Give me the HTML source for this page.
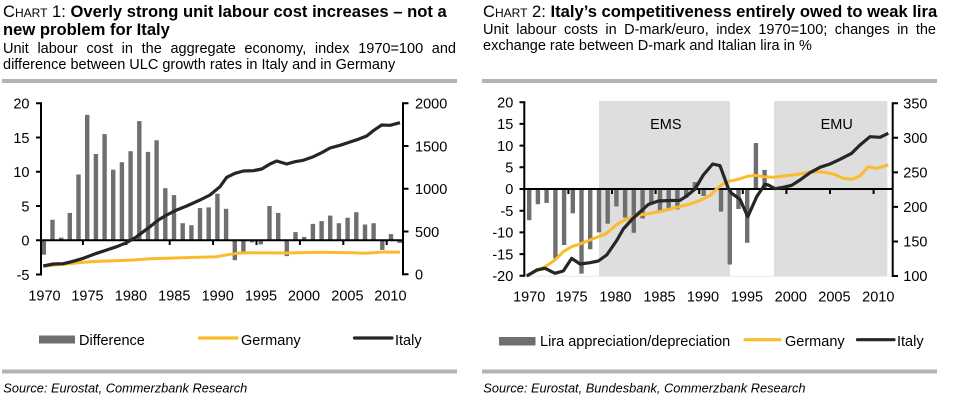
<!DOCTYPE html>
<html><head><meta charset="utf-8"><style>
html,body{margin:0;padding:0;background:#fff;}
body{width:961px;height:407px;overflow:hidden;position:relative;font-family:"Liberation Sans",Arial,sans-serif;color:#000;}
.t{position:absolute;font-size:16.6px;line-height:17.5px;white-space:nowrap;}
.t b{font-weight:bold;}
.sc{font-variant:small-caps;}
.s{position:absolute;font-size:14.5px;line-height:16.2px;width:453px;}
.j{text-align:justify;text-align-last:justify;white-space:nowrap;}
svg{position:absolute;left:0;top:0;}
</style></head><body>
<div class="t" style="left:3px;top:3.2px;">C<span class="sc">hart</span> 1: <b>Overly strong unit labour cost increases – not a</b><br><b>new problem for Italy</b></div>
<div class="s" style="left:3px;top:41.2px;"><div class="j">Unit labour cost in the aggregate economy, index 1970=100 and</div><div>difference between ULC growth rates in Italy and in Germany</div></div>
<div class="t" style="left:483px;top:3.2px;">C<span class="sc">hart</span> 2: <b>Italy’s competitiveness entirely owed to weak lira</b></div>
<div class="s" style="left:483px;top:21.9px;"><div class="j">Unit labour costs in D-mark/euro, index 1970=100; changes in the</div><div>exchange rate between D-mark and Italian lira in %</div></div>

<svg width="961" height="407" viewBox="0 0 961 407" font-family="Liberation Sans, Arial, sans-serif" font-size="14.5">
<rect x="2" y="79" width="455" height="4" fill="#b3b3b3"/>
<rect x="482" y="79" width="455" height="4" fill="#b3b3b3"/>
<rect x="2" y="369.5" width="455" height="4" fill="#b3b3b3"/>
<rect x="482" y="369.5" width="455" height="4" fill="#b3b3b3"/>

<g fill="#6f6f6f">
<rect x="41.6" y="240.3" width="4.4" height="14.4"/>
<rect x="50.3" y="219.7" width="4.4" height="20.6"/>
<rect x="59.0" y="237.6" width="4.4" height="2.7"/>
<rect x="67.6" y="212.9" width="4.4" height="27.4"/>
<rect x="76.3" y="174.5" width="4.4" height="65.8"/>
<rect x="85.0" y="114.9" width="4.4" height="125.4"/>
<rect x="93.7" y="154.0" width="4.4" height="86.3"/>
<rect x="102.4" y="134.1" width="4.4" height="106.2"/>
<rect x="111.0" y="169.7" width="4.4" height="70.6"/>
<rect x="119.7" y="162.2" width="4.4" height="78.1"/>
<rect x="128.4" y="151.2" width="4.4" height="89.1"/>
<rect x="137.1" y="121.1" width="4.4" height="119.2"/>
<rect x="145.8" y="151.9" width="4.4" height="88.4"/>
<rect x="154.4" y="140.3" width="4.4" height="100.0"/>
<rect x="163.1" y="188.2" width="4.4" height="52.1"/>
<rect x="171.8" y="195.1" width="4.4" height="45.2"/>
<rect x="180.5" y="223.2" width="4.4" height="17.1"/>
<rect x="189.2" y="225.2" width="4.4" height="15.1"/>
<rect x="197.8" y="208.1" width="4.4" height="32.2"/>
<rect x="206.5" y="207.4" width="4.4" height="32.9"/>
<rect x="215.2" y="193.7" width="4.4" height="46.6"/>
<rect x="223.9" y="208.8" width="4.4" height="31.5"/>
<rect x="232.6" y="240.3" width="4.4" height="19.9"/>
<rect x="241.2" y="240.3" width="4.4" height="11.6"/>
<rect x="249.9" y="240.3" width="4.4" height="2.1"/>
<rect x="258.6" y="240.3" width="4.4" height="4.1"/>
<rect x="267.3" y="206.0" width="4.4" height="34.3"/>
<rect x="276.0" y="212.9" width="4.4" height="27.4"/>
<rect x="284.6" y="240.3" width="4.4" height="15.8"/>
<rect x="293.3" y="232.1" width="4.4" height="8.2"/>
<rect x="302.0" y="236.9" width="4.4" height="3.4"/>
<rect x="310.7" y="223.9" width="4.4" height="16.4"/>
<rect x="319.4" y="221.1" width="4.4" height="19.2"/>
<rect x="328.0" y="215.6" width="4.4" height="24.7"/>
<rect x="336.7" y="223.2" width="4.4" height="17.1"/>
<rect x="345.4" y="217.7" width="4.4" height="22.6"/>
<rect x="354.1" y="212.2" width="4.4" height="28.1"/>
<rect x="362.8" y="224.5" width="4.4" height="15.8"/>
<rect x="371.4" y="223.2" width="4.4" height="17.1"/>
<rect x="380.1" y="240.3" width="4.4" height="9.6"/>
<rect x="388.8" y="234.1" width="4.4" height="6.2"/>
<rect x="397.5" y="240.3" width="4.4" height="2.7"/>
</g>
<g stroke="#000" stroke-width="2" fill="none">
<line x1="41" y1="240.3" x2="403" y2="240.3"/>
<path d="M82.9 240.3V245M126.3 240.3V245M169.7 240.3V245M213.1 240.3V245M256.5 240.3V245M299.9 240.3V245M343.3 240.3V245M386.7 240.3V245"/>
<line x1="41" y1="102.3" x2="41" y2="275.5"/>
<path d="M36 103.3H41M36 137.55H41M36 171.8H41M36 206.05H41M36 274.55H41M36 240.3H41"/>
<line x1="403" y1="102.3" x2="403" y2="275.3"/>
<path d="M403 103.3H408.5M403 146.05H408.5M403 188.8H408.5M403 231.55H408.5M403 274.3H408.5"/>
</g>
<polyline fill="none" stroke="#fbbc2b" stroke-width="3" stroke-linejoin="round" points="43.3,266 66.7,264 83.3,262.3 100,261.3 133.3,260 150,258.7 166.7,258.3 200,257.3 216.7,256.7 230,254.3 240,253 253.3,252.7 286.7,253 320,252.3 353.3,252.7 363.3,253.3 373.3,252.7 383.3,252 400,252.3"/>
<polyline fill="none" stroke="#262626" stroke-width="3.2" stroke-linejoin="round" points="43.3,266 53.3,264 63.3,263.7 71.7,261.7 83.3,258.3 96.7,253.3 106.7,250 116.7,246.7 125,243.3 130,240.7 136.7,236.7 143.3,231.7 150,226.7 158.3,220 166.7,215 176.7,210 186.7,206 200,200 210,195 220,186.7 226.7,177.3 235,173.3 243.3,171 253.3,170.7 261.7,169 270,164 276.7,161 286.7,164 295,161.7 303.3,160.3 313.3,156.7 321.7,152.7 330,148 340,145.3 350,142 358.3,139.3 366.7,136 373.3,130.7 381.7,125 390,125.3 400,122.7"/>
<g text-anchor="end">
<text x="29.5" y="108.5">20</text>
<text x="29.5" y="142.8">15</text>
<text x="29.5" y="177">10</text>
<text x="29.5" y="211.3">5</text>
<text x="29.5" y="245.5">0</text>
<text x="29.5" y="279.8">-5</text>
</g>
<g>
<text x="415" y="108.5">2000</text>
<text x="415" y="151.3">1500</text>
<text x="415" y="194">1000</text>
<text x="415" y="236.8">500</text>
<text x="415" y="279.5">0</text>
</g>
<g text-anchor="middle">
<text x="44.5" y="300.5">1970</text>
<text x="87.5" y="300.5">1975</text>
<text x="130.9" y="300.5">1980</text>
<text x="174.3" y="300.5">1985</text>
<text x="217.7" y="300.5">1990</text>
<text x="261" y="300.5">1995</text>
<text x="304" y="300.5">2000</text>
<text x="347.4" y="300.5">2005</text>
<text x="390.4" y="300.5">2010</text>
</g>
<rect x="39" y="335.5" width="36" height="8" fill="#6f6f6f"/>
<text x="79" y="345">Difference</text>
<line x1="199.5" y1="338" x2="237" y2="338" stroke="#fbbc2b" stroke-width="3.2" stroke-linecap="round"/>
<text x="241" y="345">Germany</text>
<line x1="354.5" y1="338" x2="392" y2="338" stroke="#262626" stroke-width="3.2" stroke-linecap="round"/>
<text x="395" y="345">Italy</text>
<text x="3.3" y="392.5" font-size="12.8" font-style="italic">Source: Eurostat, Commerzbank Research</text>

<rect x="599" y="101" width="131" height="175" fill="#dedede"/>
<rect x="774" y="101" width="113.3" height="175" fill="#dedede"/>
<line x1="524" y1="276.3" x2="887" y2="276.3" stroke="#e6e6e6" stroke-width="1"/>
<text x="665.8" y="128.9" text-anchor="middle">EMS</text>
<text x="836.7" y="128.9" text-anchor="middle">EMU</text>
<g fill="#6f6f6f">
<rect x="527.0" y="189" width="4.4" height="31.2"/>
<rect x="535.7" y="189" width="4.4" height="15.2"/>
<rect x="544.4" y="189" width="4.4" height="13.9"/>
<rect x="553.2" y="189" width="4.4" height="69.4"/>
<rect x="561.9" y="189" width="4.4" height="56.0"/>
<rect x="570.6" y="189" width="4.4" height="24.3"/>
<rect x="579.3" y="189" width="4.4" height="84.6"/>
<rect x="588.0" y="189" width="4.4" height="60.3"/>
<rect x="596.8" y="189" width="4.4" height="43.4"/>
<rect x="605.5" y="189" width="4.4" height="34.7"/>
<rect x="614.2" y="189" width="4.4" height="17.4"/>
<rect x="622.9" y="189" width="4.4" height="28.6"/>
<rect x="631.6" y="189" width="4.4" height="43.8"/>
<rect x="640.4" y="189" width="4.4" height="29.5"/>
<rect x="649.1" y="189" width="4.4" height="15.6"/>
<rect x="657.8" y="189" width="4.4" height="22.1"/>
<rect x="666.5" y="189" width="4.4" height="21.7"/>
<rect x="675.2" y="189" width="4.4" height="20.4"/>
<rect x="684.0" y="189" width="4.4" height="8.7"/>
<rect x="692.7" y="182.1" width="4.4" height="6.9"/>
<rect x="701.4" y="189" width="4.4" height="6.9"/>
<rect x="718.8" y="189" width="4.4" height="22.6"/>
<rect x="727.6" y="189" width="4.4" height="75.5"/>
<rect x="736.3" y="189" width="4.4" height="20.0"/>
<rect x="745.0" y="189" width="4.4" height="53.8"/>
<rect x="753.7" y="143.0" width="4.4" height="46.0"/>
<rect x="762.4" y="169.9" width="4.4" height="19.1"/>
</g>
<g stroke="#000" stroke-width="2" fill="none">
<line x1="524.3" y1="189" x2="892.7" y2="189"/>
<path d="M568.4 189V194M612 189V194M655.6 189V194M699.2 189V194M742.8 189V194M786.4 189V194M830 189V194M873.6 189V194"/>
<line x1="524.3" y1="101.2" x2="524.3" y2="276.8"/>
<path d="M519.5 102.2H524.3M519.5 123.9H524.3M519.5 145.6H524.3M519.5 167.3H524.3M519.5 189H524.3M519.5 210.7H524.3M519.5 232.4H524.3M519.5 254.1H524.3M519.5 275.8H524.3"/>
<line x1="892.7" y1="102.3" x2="892.7" y2="277"/>
<path d="M892.7 103.3H898M892.7 137.8H898M892.7 172.4H898M892.7 206.9H898M892.7 241.5H898M892.7 276H898"/>
</g>
<polyline fill="none" stroke="#fbbc2b" stroke-width="3" stroke-linejoin="round" points="528.3,275 538.3,270 546.7,265.7 555,260 563.3,251.7 571.7,246.7 580,244 590,240 598.3,236.7 606.7,233.3 616.7,224.5 626.7,219 638.3,215 650,213.5 660,211.5 670,209 680,206.5 690,204 700,200.5 710,195.5 718.3,187.3 726.7,181.7 738.3,179.3 746.7,176.5 755,175.3 763.3,176.7 773.3,177.3 783.3,176 793.3,175 803.3,173.3 810,172 823.3,172 833.3,174 843.3,178.3 851.7,179.3 860,176 868.3,166.7 876.7,168.3 888.3,165"/>
<polyline fill="none" stroke="#262626" stroke-width="3.2" stroke-linejoin="round" points="526.7,276 536.7,270 545,268.3 555,273.3 563.3,271 571.7,258.3 580,264 590,262.7 598.3,261 606.7,255 616.7,240.5 623.3,229 633.3,218 640,212 648.3,204.5 658.3,201 670,200.5 680,200.3 686.7,196 695,189 703.3,175 712.7,164 720,165.7 728.3,188.3 731.7,193.3 740,199.3 747.8,216.7 756.7,196.7 765,184.3 768.3,185 775,188.7 783.3,187.3 791.7,185.3 800,180 810,172.7 820,167.3 830,164 840,159.3 851.7,153.3 860,145 870,136.7 880,137.3 888.3,133.3"/>
<g text-anchor="end">
<text x="513.3" y="107.4">20</text>
<text x="513.3" y="129.1">15</text>
<text x="513.3" y="150.8">10</text>
<text x="513.3" y="172.5">5</text>
<text x="513.3" y="194.2">0</text>
<text x="513.3" y="215.9">-5</text>
<text x="513.3" y="237.6">-10</text>
<text x="513.3" y="259.3">-15</text>
<text x="513.3" y="281">-20</text>
</g>
<g>
<text x="903.3" y="108.5">350</text>
<text x="903.3" y="143">300</text>
<text x="903.3" y="177.6">250</text>
<text x="903.3" y="212.1">200</text>
<text x="903.3" y="246.7">150</text>
<text x="903.3" y="281.2">100</text>
</g>
<g text-anchor="middle">
<text x="529.2" y="301.5">1970</text>
<text x="571.5" y="301.5">1975</text>
<text x="615.5" y="301.5">1980</text>
<text x="659.5" y="301.5">1985</text>
<text x="703" y="301.5">1990</text>
<text x="747" y="301.5">1995</text>
<text x="790.8" y="301.5">2000</text>
<text x="834.4" y="301.5">2005</text>
<text x="878.3" y="301.5">2010</text>
</g>
<rect x="499" y="337" width="36.5" height="8.5" fill="#6f6f6f"/>
<text x="540" y="346">Lira appreciation/depreciation</text>
<line x1="745" y1="339.7" x2="780" y2="339.7" stroke="#fbbc2b" stroke-width="3.2" stroke-linecap="round"/>
<text x="785" y="346">Germany</text>
<line x1="857.5" y1="339.7" x2="894" y2="339.7" stroke="#262626" stroke-width="3.2" stroke-linecap="round"/>
<text x="897" y="346">Italy</text>
<text x="483.3" y="392.5" font-size="12.8" font-style="italic">Source: Eurostat, Bundesbank, Commerzbank Research</text>
</svg>
</body></html>
